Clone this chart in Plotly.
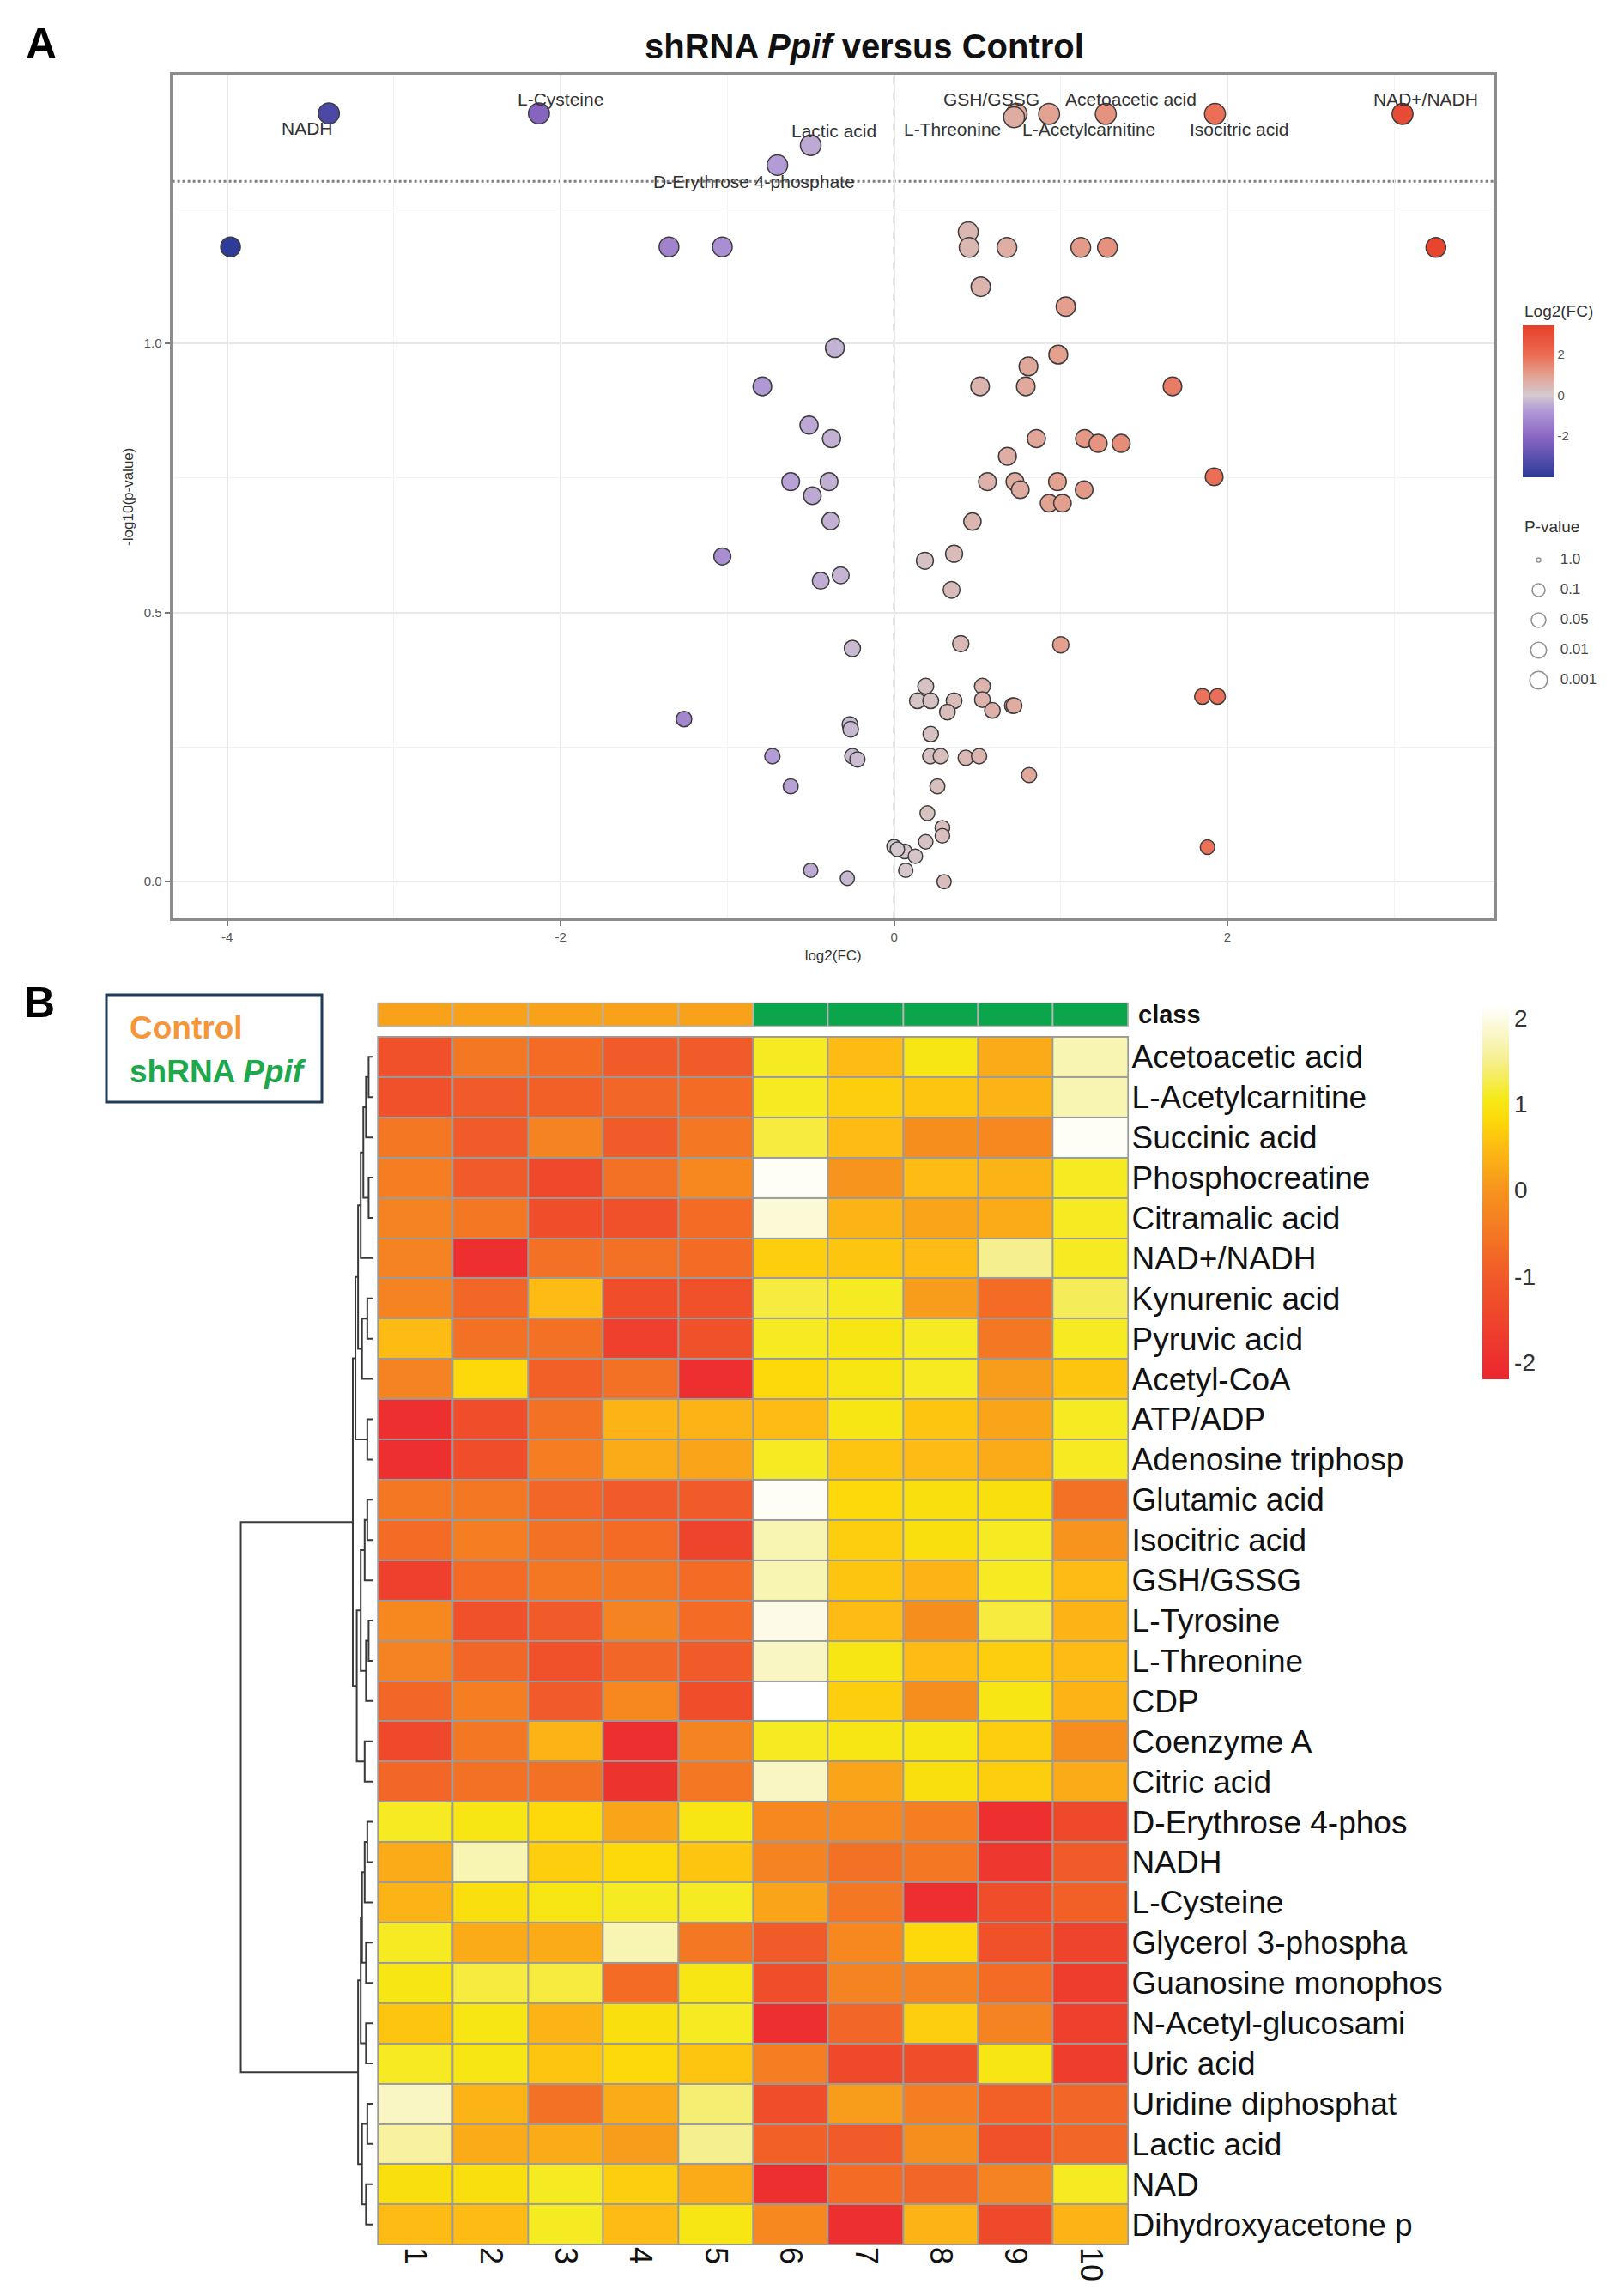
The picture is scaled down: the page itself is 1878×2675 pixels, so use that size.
import numpy as np
import plotly.graph_objects as go

# ---------------- Panel A data (volcano) ----------------
lab_names = ["NADH", "L-Cysteine", "Lactic acid", "D-Erythrose 4-phosphate", "GSH/GSSG",
             "L-Threonine", "L-Acetylcarnitine", "Acetoacetic acid", "Isocitric acid", "NAD+/NADH"]
lab_log2fc = [-3.39, -2.13, -0.50, -0.70, 0.735, 0.72, 0.93, 1.27, 1.925, 3.05]
lab_neglog10p = [1.427, 1.427, 1.368, 1.331, 1.426, 1.42, 1.426, 1.426, 1.426, 1.426]

other_log2fc = [
    -3.98, -1.35, -1.03, 0.445, 0.45, 0.677, 1.12, 1.28, 3.25,
    0.52, 1.03,
    -0.355, 0.985, 0.806,
    -0.79, 0.516, 0.79, 1.67,
    -0.51, -0.375, 0.854, 1.143, 1.224, 1.362,
    0.68, 1.92,
    -0.62, -0.39, -0.49, -0.38,
    0.56, 0.725, 0.757, 0.98, 1.14, 0.93, 1.01, 0.47,
    0.36, 0.185, 0.345,
    -1.03, -0.44, -0.32,
    -0.25, 0.40, 1.0,
    0.19, 0.14, 0.22, 0.36, 0.53, 0.53, 0.59, 0.71, 0.72, 0.32,
    1.85, 1.94,
    -1.26, -0.265, -0.26,
    0.22,
    -0.73, -0.25, -0.22,
    0.217, 0.28, 0.43, 0.51,
    0.81,
    -0.62, 0.26,
    0.20, 0.29, 0.29, 0.19,
    0.0, 0.064, 0.128, 0.07, 0.02,
    0.30, 1.88,
    -0.50, -0.28,
]
other_neglog10p = [
    1.179, 1.179, 1.179, 1.207, 1.178, 1.178, 1.178, 1.178, 1.178,
    1.105, 1.068,
    0.991, 0.979, 0.957,
    0.92, 0.92, 0.92, 0.92,
    0.848, 0.823, 0.823, 0.823, 0.814, 0.814,
    0.79, 0.752,
    0.743, 0.743, 0.717, 0.67,
    0.743, 0.743, 0.728, 0.743, 0.728, 0.703, 0.703, 0.669,
    0.609, 0.596, 0.542,
    0.604, 0.559, 0.569,
    0.433, 0.442, 0.44,
    0.363, 0.336, 0.336, 0.336, 0.363, 0.338, 0.318, 0.327, 0.327, 0.315,
    0.344, 0.344,
    0.302, 0.292, 0.283,
    0.274,
    0.233, 0.233, 0.227,
    0.233, 0.233, 0.23, 0.233,
    0.198,
    0.177, 0.177,
    0.127, 0.10, 0.085, 0.074,
    0.065, 0.056, 0.047, 0.021, 0.06,
    0.0, 0.064,
    0.021, 0.006,
]

pval_threshold = 0.05
pvalue_legend_values = [1.0, 0.1, 0.05, 0.01, 0.001]
pvalue_legend_labels = ["1.0", "0.1", "0.05", "0.01", "0.001"]
x_ticks_A = [-4, -2, 0, 2]
y_ticks_A = [0.0, 0.5, 1.0]
fc_colorbar_ticks = [-2, 0, 2]

# ---------------- Panel B data (heatmap) ----------------
row_labels = ["Acetoacetic acid", "L-Acetylcarnitine", "Succinic acid", "Phosphocreatine",
              "Citramalic acid", "NAD+/NADH", "Kynurenic acid", "Pyruvic acid", "Acetyl-CoA",
              "ATP/ADP", "Adenosine triphosp", "Glutamic acid", "Isocitric acid", "GSH/GSSG",
              "L-Tyrosine", "L-Threonine", "CDP", "Coenzyme A", "Citric acid",
              "D-Erythrose 4-phos", "NADH", "L-Cysteine", "Glycerol 3-phospha",
              "Guanosine monophos", "N-Acetyl-glucosami", "Uric acid", "Uridine diphosphat",
              "Lactic acid", "NAD", "Dihydroxyacetone p"]
col_labels = ["1", "2", "3", "4", "5", "6", "7", "8", "9", "10"]
sample_class = [0, 0, 0, 0, 0, 1, 1, 1, 1, 1]   # 0 = Control, 1 = shRNA Ppif
heat_values = [
    [-1.2, -0.5, -0.7, -1.0, -1.0, 1.1, 0.5, 1.0, 0.3, 1.7],
    [-1.2, -1.0, -0.9, -0.8, -0.7, 1.1, 0.7, 0.6, 0.4, 1.7],
    [-0.5, -1.0, -0.3, -1.0, -0.5, 1.2, 0.5, -0.1, -0.2, 2.1],
    [-0.4, -1.0, -1.4, -0.6, -0.2, 2.1, 0.0, 0.5, 0.4, 1.1],
    [-0.3, -0.5, -1.3, -1.2, -0.7, 1.9, 0.4, 0.2, 0.3, 1.1],
    [-0.3, -2.0, -0.6, -0.6, -0.7, 0.7, 0.6, 0.5, 1.5, 1.1],
    [-0.3, -0.8, 0.5, -1.3, -1.2, 1.2, 1.1, 0.1, -0.7, 1.3],
    [0.5, -0.6, -0.6, -1.6, -1.2, 1.1, 1.0, 1.1, -0.5, 1.1],
    [-0.3, 0.8, -0.9, -0.6, -2.0, 0.8, 1.0, 1.1, 0.1, 0.6],
    [-2.0, -1.3, -0.6, 0.4, 0.4, 0.5, 1.0, 0.6, 0.2, 1.1],
    [-2.0, -1.3, -0.4, 0.3, 0.2, 1.1, 0.6, 0.5, 0.3, 1.1],
    [-0.5, -0.5, -0.8, -1.0, -1.0, 2.1, 0.8, 0.9, 0.9, -0.6],
    [-0.7, -0.4, -0.6, -0.7, -1.5, 1.7, 0.7, 0.9, 1.1, 0.0],
    [-1.6, -0.7, -0.5, -0.5, -0.7, 1.7, 0.6, 0.4, 1.1, 0.5],
    [-0.2, -1.2, -1.0, -0.3, -0.7, 2.0, 0.5, -0.1, 1.2, 0.4],
    [-0.3, -0.8, -1.2, -0.8, -1.0, 1.8, 1.0, 0.5, 0.7, 0.5],
    [-0.8, -0.4, -1.0, -0.2, -1.3, 2.2, 0.7, -0.1, 1.0, 0.4],
    [-1.4, -0.5, 0.4, -2.0, -0.3, 1.1, 1.0, 1.0, 0.7, -0.1],
    [-0.8, -0.6, -0.6, -1.9, -0.5, 1.8, 0.2, 0.9, 0.7, 0.3],
    [1.1, 1.0, 0.8, 0.2, 1.0, -0.2, -0.2, -0.4, -2.0, -1.4],
    [0.3, 1.7, 0.7, 0.8, 0.6, -0.3, -0.6, -0.5, -1.8, -1.0],
    [0.4, 0.9, 1.0, 1.1, 1.1, 0.2, -0.5, -2.0, -1.3, -0.9],
    [1.1, 0.3, 0.3, 1.7, -0.5, -1.0, -0.2, 0.8, -1.2, -1.5],
    [1.0, 1.2, 1.2, -0.7, 1.0, -1.3, -0.3, -0.3, -0.7, -1.7],
    [0.6, 1.0, 0.4, 0.9, 1.1, -2.0, -0.8, 0.7, -0.3, -1.6],
    [1.1, 1.0, 0.6, 0.8, 0.6, -0.4, -1.4, -1.3, 1.0, -1.7],
    [1.8, 0.4, -0.6, 0.3, 1.4, -1.3, 0.1, -0.4, -0.9, -0.8],
    [1.6, 0.3, 0.3, 0.1, 1.5, -0.9, -1.0, -0.1, -1.2, -0.8],
    [0.9, 0.9, 1.1, 0.7, 0.3, -2.0, -0.7, -0.8, -0.3, 1.1],
    [0.5, 0.5, 1.1, 0.5, 1.0, -0.2, -2.0, 0.4, -1.4, 0.4],
]
heat_colorbar_ticks = [-2, -1, 0, 1, 2]
# row dendrogram merges: (child a, child b, height); ids >= 30 are earlier merges
dendro_merges = [
    (0, 1, 0.3), (30, 2, 0.5), (3, 4, 0.3), (31, 32, 0.7), (33, 5, 0.9),
    (6, 7, 0.4), (35, 8, 0.8), (34, 36, 1.1), (9, 10, 0.4), (37, 38, 1.3),
    (11, 12, 0.4), (40, 13, 0.6), (14, 15, 0.3), (42, 16, 0.5), (41, 43, 0.9),
    (17, 18, 0.6), (44, 45, 1.2), (39, 46, 1.5),
    (19, 20, 0.4), (48, 21, 0.6), (22, 23, 0.5), (49, 50, 0.8), (24, 25, 0.5),
    (51, 52, 0.9), (26, 27, 0.4), (28, 29, 0.5), (54, 55, 0.8), (53, 56, 1.1),
    (47, 57, 10.0),
]

# ---------------- styling helpers ----------------
W, H = 1878, 2675
FONT = "Liberation Sans, Arial, sans-serif"


def px(x):
    return x / W


def py(y):
    return 1 - y / H


fc_cmin, fc_cmax = -4.02, 3.43


def frac(v):
    return (v - fc_cmin) / (fc_cmax - fc_cmin)


fc_colorscale = [[0.0, "#2D3A98"], [frac(-2), "#8C68C4"], [frac(-0.7), "#B39CD6"],
                 [frac(0), "#D4CACF"], [frac(1), "#E3A08F"], [frac(2), "#EC6B52"], [1.0, "#E7402A"]]

hz_min, hz_max = -2.2, 2.15


def hfrac(v):
    return (v - hz_min) / (hz_max - hz_min)


heat_colorscale = [[0.0, "#EC2630"], [hfrac(-1), "#F15A29"], [hfrac(0), "#F7941D"],
                   [hfrac(0.5), "#FDBB13"], [hfrac(0.8), "#FDD80A"], [hfrac(1.05), "#F6E916"],
                   [hfrac(1.5), "#F5EF8E"], [hfrac(2.0), "#FDFBE8"], [1.0, "#FFFFFF"]]

all_fc = lab_log2fc + other_log2fc
all_p = lab_neglog10p + other_neglog10p
marker_sizes = [16.5 + 5.5 * v for v in all_p]

fig = go.Figure()

# volcano points
fig.add_trace(go.Scatter(
    x=all_fc, y=all_p, mode="markers", xaxis="x", yaxis="y", showlegend=False,
    marker=dict(color=all_fc, colorscale=fc_colorscale, cmin=fc_cmin, cmax=fc_cmax,
                size=marker_sizes, opacity=1.0,
                line=dict(color="#3d3d3d", width=1.5),
                colorbar=dict(x=px(1766), xanchor="left", y=py(371), yanchor="top",
                              lenmode="pixels", len=177, thicknessmode="pixels", thickness=37,
                              xpad=0, ypad=0, outlinewidth=0, ticks="",
                              tickvals=fc_colorbar_ticks, ticktext=[str(t) for t in fc_colorbar_ticks],
                              tickfont=dict(size=15, color="#555", family=FONT))),
    hoverinfo="x+y"))

# p-value size legend
LEGEND_SIZES = [5, 15, 17, 18.5, 20.5]
idx = list(range(len(pvalue_legend_values)))
fig.add_trace(go.Scatter(
    x=[1.65] * len(idx), y=idx, mode="markers", xaxis="x5", yaxis="y5", showlegend=False,
    marker=dict(symbol="circle-open", size=LEGEND_SIZES, color="#666", line=dict(width=1.6))))
fig.add_trace(go.Scatter(
    x=[3.9] * len(idx), y=idx, mode="text", text=pvalue_legend_labels, textposition="middle right",
    xaxis="x5", yaxis="y5", showlegend=False, textfont=dict(size=17, color="#444", family=FONT)))

# dendrogram
n = len(row_labels)
pos = {i: float(i) for i in range(n)}
hgt = {i: 0.0 for i in range(n)}
dxs, dys = [], []
for k, (a, b, h) in enumerate(dendro_merges):
    node = n + k
    dxs += [hgt[a], h, h, hgt[b], None]
    dys += [pos[a], pos[a], pos[b], pos[b], None]
    pos[node] = (pos[a] + pos[b]) / 2
    hgt[node] = h
fig.add_trace(go.Scatter(x=dxs, y=dys, mode="lines", xaxis="x4", yaxis="y2", showlegend=False,
                         line=dict(color="#3a3a3a", width=2), hoverinfo="skip"))

# heatmap
fig.add_trace(go.Heatmap(
    z=heat_values, x=list(range(len(col_labels))), y=list(range(n)), xaxis="x2", yaxis="y2",
    colorscale=heat_colorscale, zmin=hz_min, zmax=hz_max, xgap=2, ygap=2,
    colorbar=dict(x=px(1719), xanchor="left", y=py(1163), yanchor="top",
                  lenmode="pixels", len=436, thicknessmode="pixels", thickness=31,
                  xpad=0, ypad=0, outlinewidth=0, ticks="",
                  tickvals=heat_colorbar_ticks, ticktext=[str(t) for t in heat_colorbar_ticks],
                  tickfont=dict(size=28, color="#333", family=FONT))))

# class annotation bar
fig.add_trace(go.Heatmap(
    z=[sample_class], x=list(range(len(col_labels))), y=[0], xaxis="x2", yaxis="y3",
    colorscale=[[0, "#F8A21C"], [0.5, "#F8A21C"], [0.5, "#0BA64C"], [1, "#0BA64C"]],
    zmin=0, zmax=1, showscale=False, xgap=2, hoverinfo="skip"))

ncol = len(col_labels)
HX = (-0.5, ncol - 0.5)
HY = (-0.5, n - 0.5)

shapes = [
    dict(type="line", xref="x domain", yref="y", x0=0, x1=1,
         y0=-np.log10(pval_threshold), y1=-np.log10(pval_threshold),
         line=dict(color="#808080", width=3, dash="dot"), layer="below"),
    dict(type="line", xref="x", yref="y domain", x0=0, x1=0, y0=0, y1=1,
         line=dict(color="#555", width=1.5, dash="dash"), layer="below"),
    dict(type="rect", xref="x2", yref="y2", x0=HX[0], x1=HX[1], y0=HY[0], y1=HY[1],
         fillcolor="#9b9b9b", line=dict(color="#9b9b9b", width=2), layer="below"),
    dict(type="rect", xref="x2", yref="y3", x0=HX[0], x1=HX[1], y0=-0.5, y1=0.5,
         fillcolor="#b5b5b5", line=dict(color="#b5b5b5", width=2), layer="below"),
    dict(type="rect", xref="paper", yref="paper", x0=px(116), x1=px(367), y0=py(1276), y1=py(1151),
         line=dict(color="#1F3B5C", width=3), fillcolor="rgba(0,0,0,0)"),
]

LABEL_OFFSETS = {
    "NADH": (-0.13, -0.027), "L-Cysteine": (0.13, 0.026), "Lactic acid": (0.14, 0.026),
    "D-Erythrose 4-phosphate": (-0.14, -0.030), "GSH/GSSG": (-0.15, 0.028),
    "L-Threonine": (-0.37, -0.022), "L-Acetylcarnitine": (0.24, -0.028),
    "Acetoacetic acid": (0.15, 0.028), "Isocitric acid": (0.145, -0.028), "NAD+/NADH": (0.14, 0.028),
}
annotations = []
for name, xv, yv in zip(lab_names, lab_log2fc, lab_neglog10p):
    ox, oy = LABEL_OFFSETS[name]
    annotations.append(dict(x=xv + ox, y=yv + oy, xref="x", yref="y", text=name, showarrow=False,
                            xanchor="center", yanchor="middle",
                            font=dict(size=21, color="#333", family=FONT)))


def paper_text(x, y, text, size, color, xanchor="center"):
    return dict(x=px(x), y=py(y), xref="paper", yref="paper", text=text, showarrow=False,
                xanchor=xanchor, yanchor="middle", font=dict(size=size, color=color, family=FONT))


annotations += [
    paper_text(40, 43, "<b>A</b>", 50, "#000"),
    paper_text(38, 1160, "<b>B</b>", 50, "#000"),
    paper_text(999, 46, "<b>shRNA <i>Ppif</i> versus Control</b>", 40, "#111"),
    paper_text(1766, 354, "Log2(FC)", 19, "#333", "left"),
    paper_text(1766, 605, "P-value", 19, "#333", "left"),
    paper_text(1316, 1174, "<b>class</b>", 29, "#111", "left"),
    paper_text(141, 1189, "<b>Control</b>", 37, "#F5963A", "left"),
    paper_text(141, 1240, "<b>shRNA <i>Ppif</i></b>", 37, "#1DA84B", "left"),
]

tickfont_A = dict(size=15, color="#555", family=FONT)
fig.update_layout(
    width=W, height=H, margin=dict(l=0, r=0, t=0, b=0),
    paper_bgcolor="white", plot_bgcolor="white", font=dict(family=FONT),
    showlegend=False, shapes=shapes, annotations=annotations,
    xaxis=dict(domain=[px(192.6), px(1732.8)], range=[-4.33, 3.60], anchor="y",
               tickvals=x_ticks_A, ticktext=[str(t) for t in x_ticks_A], tickfont=tickfont_A,
               showgrid=True, gridcolor="#e8e8e8", gridwidth=1.5,
               minor=dict(dtick=1, tick0=0, showgrid=True, gridcolor="#f3f3f3", gridwidth=1),
               zeroline=False, showline=True, linecolor="#8c8c8c", linewidth=3, mirror=True,
               ticks="outside", ticklen=6, tickcolor="#777", tickwidth=1.5,
               title=dict(text="log2(FC)", font=dict(size=17, color="#333", family=FONT), standoff=8)),
    yaxis=dict(domain=[py(1062.4), py(79)], range=[-0.069, 1.499], anchor="x",
               tickvals=y_ticks_A, ticktext=["%.1f" % t for t in y_ticks_A], tickfont=tickfont_A,
               showgrid=True, gridcolor="#e8e8e8", gridwidth=1.5,
               minor=dict(dtick=0.25, tick0=0, showgrid=True, gridcolor="#f3f3f3", gridwidth=1),
               zeroline=False, showline=True, linecolor="#8c8c8c", linewidth=3, mirror=True,
               ticks="outside", ticklen=6, tickcolor="#777", tickwidth=1.5,
               title=dict(text="-log10(p-value)", font=dict(size=17, color="#333", family=FONT), standoff=8)),
    xaxis2=dict(domain=[px(428.8), px(1309.6)], range=[-0.54, ncol - 0.46], anchor="y2",
                tickvals=list(range(ncol)), ticktext=col_labels, tickangle=90, side="bottom",
                tickfont=dict(size=36, color="#111", family=FONT), ticks="",
                showgrid=False, zeroline=False, showline=False),
    yaxis2=dict(domain=[py(2609), py(1198)], range=[n - 0.46, -0.54], anchor="x2", side="right",
                tickvals=list(range(n)), ticktext=row_labels,
                tickfont=dict(size=37, color="#111", family=FONT), ticks="",
                showgrid=False, zeroline=False, showline=False),
    yaxis3=dict(domain=[py(1189), py(1159)], range=[-0.57, 0.57], anchor="x2", visible=False),
    xaxis4=dict(domain=[px(271), px(426)], range=[10.1, 0], anchor="y2", visible=False),
    xaxis5=dict(domain=[px(1766), 1.0], range=[0, 10], anchor="y5", visible=False),
    yaxis5=dict(domain=[py(802), py(627)], range=[4.5, -0.5], anchor="x5", visible=False),
)

fig.write_html("out.html")
